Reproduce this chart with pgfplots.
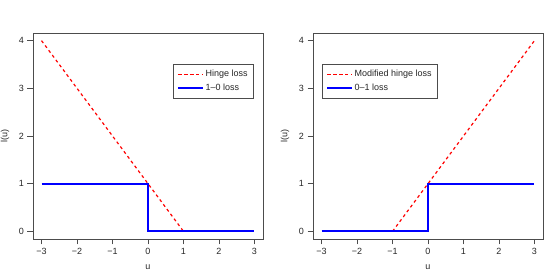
\documentclass[border=0pt]{standalone}
\usepackage{fontspec}
\setmainfont{Liberation Sans}
\usepackage{pgfplots}
\pgfplotsset{compat=1.18}
\definecolor{axgray}{gray}{0.3}
\definecolor{rred}{RGB}{255,0,0}
\definecolor{rblue}{RGB}{0,0,255}
\pgfplotsset{
 myax/.style={
  scale only axis, width=230pt, height=206pt,
  xmin=-3.24, xmax=3.24, ymin=-0.16, ymax=4.16,
  xtick={-3,-2,-1,0,1,2,3}, ytick={0,1,2,3,4},
  xticklabels={−3,−2,−1,0,1,2,3},
  yticklabels={0,1,2,3,4},
  tick align=outside, major tick length=5.5pt,
  tick style={axgray, line width=0.6pt},
  axis line style={axgray, line width=0.6pt},
  xtick pos=lower, ytick pos=left,
  tick label style={font=\fontsize{9}{10}\selectfont, text=black!85},
  xlabel={u}, ylabel={l(u)},
  every axis x label/.style={at={(axis description cs:0.5,-0.136)}, anchor=center,
    font=\fontsize{9}{10}\selectfont, text=black!85},
  every axis y label/.style={at={(axis description cs:-0.1217,0.5)}, rotate=90, anchor=center,
    font=\fontsize{9}{10}\selectfont, text=black!85},
  legend image code/.code={\path (-1pt,0pt) -- (24pt,0pt);\draw[#1] (0pt,0pt) -- (16pt,0pt);},
  legend cell align=left,
  legend style={draw=axgray, line width=0.6pt, anchor=north west,
    font=\fontsize{9}{10}\selectfont, inner xsep=4pt, inner ysep=4.5pt,
    row sep=2.5pt, nodes={inner sep=1.6pt, text=black!85}},
 },
 hingeline/.style={draw=rred, line width=1.2pt, dash pattern=on 3pt off 3pt},
 zeroone/.style={draw=rblue, line width=2pt},
}
\begin{document}
\begin{tikzpicture}
\path[use as bounding box] (0,0) rectangle (560pt,280pt);
\begin{axis}[myax, at={(33pt,41pt)}, anchor=south west,
  legend style={at={(0.607,0.85)}}]
\addplot[hingeline] coordinates {(-3,4) (1,0)};
\addlegendentry{Hinge loss}
\addplot[zeroone] coordinates {(-3,1) (0,1) (0,0) (3,0)};
\addlegendentry{1–0 loss}
\end{axis}
\begin{axis}[myax, at={(313pt,41pt)}, anchor=south west,
  legend style={at={(0.038,0.85)}}]
\addplot[hingeline] coordinates {(-1,0) (3,4)};
\addlegendentry{Modified hinge loss}
\addplot[zeroone] coordinates {(-3,0) (0,0) (0,1) (3,1)};
\addlegendentry{0–1 loss}
\end{axis}
\end{tikzpicture}
\end{document}
